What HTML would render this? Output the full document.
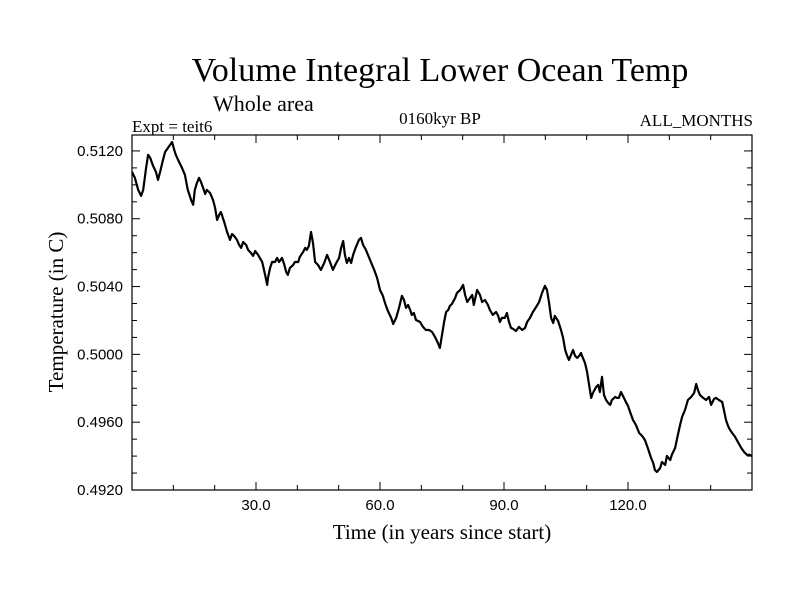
<!DOCTYPE html>
<html><head><meta charset="utf-8"><style>
html,body{margin:0;padding:0;background:#fff;}
svg{display:block;font-family:"Liberation Serif",serif;}
</style></head><body>
<svg id="chart" width="800" height="600" viewBox="0 0 800 600" xmlns="http://www.w3.org/2000/svg">
<rect width="800" height="600" fill="#fff"/>
<text x="440" y="81" font-size="34" text-anchor="middle">Volume Integral Lower Ocean Temp</text>
<text x="213" y="111" font-size="22">Whole area</text>
<text x="132" y="132" font-size="17">Expt = teit6</text>
<text x="440" y="124" font-size="17" text-anchor="middle">0160kyr BP</text>
<text x="753" y="126" font-size="17" text-anchor="end">ALL_MONTHS</text>
<text x="442" y="539" font-size="21" text-anchor="middle">Time (in years since start)</text>
<text x="0" y="0" font-size="21" text-anchor="middle" transform="translate(63,312) rotate(-90)">Temperature (in C)</text>
<g id="axes"></g>
<rect x="132" y="135" width="620" height="355" fill="none" stroke="#000" stroke-width="1.2"/>
<path id="series" fill="none" stroke="#000" stroke-width="2.2" stroke-linejoin="round"/>
</svg>
<script>
const years=[0,0.7,1.5,2.2,2.7,3.4,3.9,4.4,5.1,5.8,6.3,6.8,7.5,8.0,8.7,9.7,10.2,10.6,11.4,12.1,12.8,13.5,14.3,14.8,15.2,15.7,16.2,16.7,17.2,17.7,18.1,18.9,19.6,20.1,20.6,21.1,21.5,22.3,23.0,23.7,24.2,24.7,25.4,25.9,26.4,26.9,27.6,28.1,28.8,29.3,29.8,30.5,31.5,32.2,32.7,32.9,33.4,33.9,34.6,35.1,35.6,36.3,36.8,37.3,37.7,38.2,39.0,39.4,40.2,40.6,41.4,41.9,42.3,42.8,43.3,43.8,44.3,45.0,45.7,46.5,47.2,47.9,48.6,49.4,50.1,50.6,51.1,51.5,52.0,52.5,53.0,53.5,54.2,54.9,55.4,55.9,56.6,57.1,57.8,58.6,59.3,60.0,60.7,61.2,61.9,62.7,63.2,63.9,64.6,65.3,65.8,66.3,66.8,67.3,67.7,68.2,68.7,69.7,70.4,71.1,71.9,72.6,73.3,74.0,74.5,75.0,75.5,76.0,76.5,76.9,77.4,78.2,78.6,79.4,80.1,80.6,81.1,81.8,82.3,82.7,83.5,84.2,84.7,85.4,86.1,86.6,87.3,88.1,88.6,89.0,89.5,90.2,90.7,91.2,91.7,92.2,92.9,93.6,94.4,95.1,95.6,96.3,97.0,97.8,98.5,99.2,99.9,100.4,100.9,101.4,101.9,102.3,103.1,103.8,104.3,104.8,105.2,105.7,106.2,106.7,107.2,107.7,108.2,108.6,109.1,109.6,110.1,110.6,111.1,111.5,112.3,112.8,113.2,113.7,114.2,114.7,115.2,115.7,116.1,116.9,117.3,117.8,118.3,119.0,119.5,120.0,120.5,121.2,121.9,122.7,123.4,124.1,124.8,125.6,126.1,126.5,127.0,127.8,128.2,129.0,129.4,130.2,130.6,131.4,131.9,132.6,133.1,133.8,134.5,135.3,136.0,136.5,136.9,137.4,138.2,138.9,139.6,140.1,140.8,141.3,142.0,142.8,143.2,143.7,144.2,144.7,145.2,145.9,146.6,147.4,148.1,148.8,149.5,150];
const temps=[0.51076,0.51041,0.50970,0.50935,0.50970,0.51100,0.51177,0.51159,0.51112,0.51076,0.51029,0.51076,0.51147,0.51194,0.51218,0.51253,0.51206,0.51177,0.51135,0.51100,0.51059,0.50970,0.50911,0.50882,0.50970,0.51011,0.51041,0.51017,0.50982,0.50946,0.50970,0.50952,0.50911,0.50864,0.50793,0.50823,0.50840,0.50781,0.50722,0.50675,0.50710,0.50699,0.50675,0.50646,0.50628,0.50663,0.50646,0.50616,0.50598,0.50581,0.50610,0.50587,0.50545,0.50469,0.50410,0.50451,0.50510,0.50545,0.50545,0.50569,0.50545,0.50569,0.50533,0.50486,0.50469,0.50510,0.50528,0.50545,0.50545,0.50575,0.50604,0.50628,0.50616,0.50640,0.50722,0.50657,0.50545,0.50528,0.50498,0.50539,0.50587,0.50545,0.50498,0.50539,0.50569,0.50628,0.50669,0.50587,0.50539,0.50569,0.50539,0.50587,0.50634,0.50675,0.50687,0.50646,0.50616,0.50587,0.50545,0.50498,0.50451,0.50380,0.50345,0.50303,0.50256,0.50215,0.50179,0.50215,0.50274,0.50345,0.50321,0.50274,0.50292,0.50262,0.50233,0.50244,0.50203,0.50191,0.50162,0.50144,0.50144,0.50132,0.50103,0.50067,0.50038,0.50115,0.50191,0.50250,0.50262,0.50286,0.50297,0.50333,0.50362,0.50380,0.50410,0.50351,0.50309,0.50333,0.50351,0.50292,0.50380,0.50351,0.50309,0.50321,0.50292,0.50262,0.50233,0.50250,0.50227,0.50191,0.50215,0.50215,0.50244,0.50191,0.50156,0.50150,0.50138,0.50162,0.50144,0.50156,0.50191,0.50215,0.50250,0.50280,0.50309,0.50362,0.50404,0.50380,0.50303,0.50215,0.50185,0.50227,0.50197,0.50144,0.50097,0.50026,0.49997,0.49967,0.49997,0.50026,0.49991,0.49979,0.49991,0.50008,0.49979,0.49949,0.49896,0.49820,0.49743,0.49772,0.49808,0.49820,0.49778,0.49867,0.49761,0.49731,0.49713,0.49702,0.49731,0.49749,0.49743,0.49743,0.49778,0.49743,0.49719,0.49696,0.49660,0.49613,0.49584,0.49536,0.49519,0.49495,0.49448,0.49389,0.49359,0.49318,0.49306,0.49330,0.49365,0.49348,0.49401,0.49377,0.49407,0.49448,0.49507,0.49584,0.49631,0.49672,0.49731,0.49749,0.49772,0.49825,0.49790,0.49761,0.49743,0.49731,0.49749,0.49702,0.49737,0.49743,0.49731,0.49719,0.49672,0.49613,0.49578,0.49554,0.49536,0.49513,0.49483,0.49448,0.49424,0.49407,0.49407,0.49400];
const xTickValues=[30,60,90,120];
const xTickLabels=["30.0","60.0","90.0","120.0"];
const yTickValues=[0.4920,0.4960,0.5000,0.5040,0.5080,0.5120];
const yTickLabels=["0.4920","0.4960","0.5000","0.5040","0.5080","0.5120"];

const L=132,R=752,T=135,B=490,X0=0,X1=150,Y0=0.4920,Y1=0.51294;
const sx=v=>L+(v-X0)/(X1-X0)*(R-L);
const sy=v=>B-(v-Y0)/(Y1-Y0)*(B-T);
const NS="http://www.w3.org/2000/svg";
const axes=document.getElementById('axes');
function line(x1,y1,x2,y2,name){
  const l=document.createElementNS(NS,'line');
  l.setAttribute('x1',x1);l.setAttribute('y1',y1);l.setAttribute('x2',x2);l.setAttribute('y2',y2);
  l.setAttribute('stroke','#000');l.setAttribute('stroke-width','1');
  
  
  axes.appendChild(l);
}
function text(x,y,s,anchor,name){
  const t=document.createElementNS(NS,'text');
  t.setAttribute('x',x);t.setAttribute('y',y);t.setAttribute('font-size','15');
  t.setAttribute('font-family','"Liberation Sans",sans-serif');
  t.setAttribute('text-anchor',anchor);t.textContent=s;
  
  
  axes.appendChild(t);
}
for(let v=10;v<150;v+=10){
  const x=sx(v),len=(v%30===0)?8:5;
  line(x,B,x,B-len,'x-tick');
  line(x,T,x,T+len,'x-tick-top');
}
for(let i=1;i<=20;i++){
  const v=0.492+i*0.001,y=sy(v);if(y<T)break;
  const len=(i%4===0)?8:5;
  line(L,y,L+len,y,'y-tick');
  line(R,y,R-len,y,'y-tick-right');
}
xTickValues.forEach((v,i)=>text(sx(v),B+20,xTickLabels[i],'middle','x-tick-label'));
yTickValues.forEach((v,i)=>text(L-9,sy(v)+5,yTickLabels[i],'end','y-tick-label'));
let d='';
years.forEach((yr,i)=>{d+=(i?'L':'M')+sx(yr).toFixed(1)+' '+sy(temps[i]).toFixed(1);});
document.getElementById('series').setAttribute('d',d);
</script>
</body></html>
